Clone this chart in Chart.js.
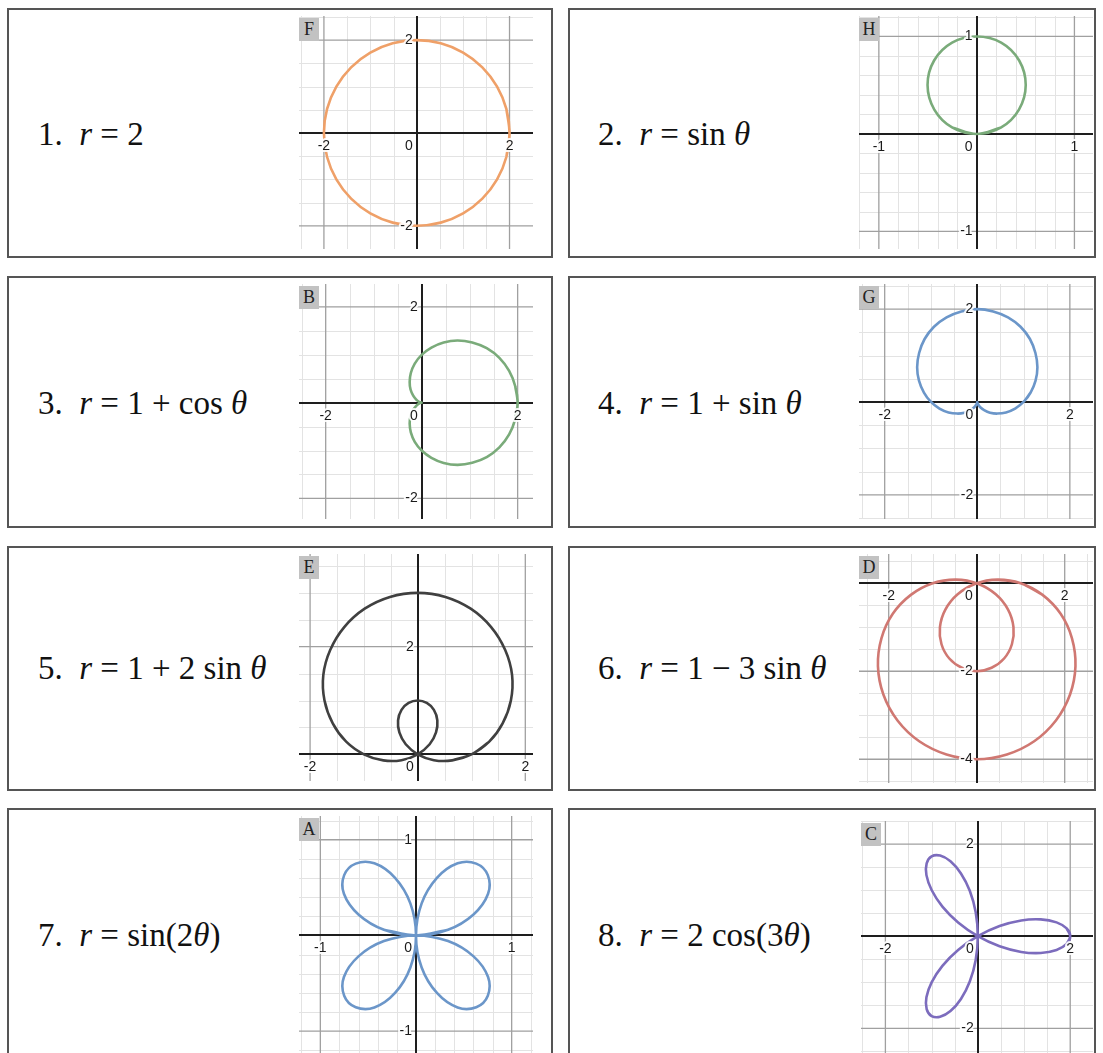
<!DOCTYPE html>
<html lang="en">
<head>
<meta charset="UTF-8">
<title>Polar Graphs Matching</title>
<script src="https://cdn.jsdelivr.net/npm/chart.js"></script>
<style>
    body {
        margin: 0;
        width: 1103px;
        height: 1053px;
        overflow: hidden;
        position: relative;
        background: #fff;
        font-family: 'Liberation Serif', 'Times New Roman', serif;
    }
    .box {
        position: absolute;
        border: 2px solid #555;
        box-sizing: border-box;
    }
    .eq {
        position: absolute;
        font-size: 33px;
        line-height: 40px;
        color: #111;
        white-space: nowrap;
    }
    .plot {
        position: absolute;
    }
    .tag {
        position: absolute;
        width: 20px;
        height: 23px;
        background: #c2c2c2;
        color: #222;
        font-size: 18px;
        line-height: 23px;
        text-align: center;
    }
</style>
</head>
<body>
<script>
    const stepDeg = [15, 15, 10, 10, 10, 10, 10, 5];
    const rCircle = [2, 2, 2, 2, 2, 2, 2, 2, 2, 2, 2, 2, 2, 2, 2, 2, 2, 2, 2, 2, 2, 2, 2, 2];
    const rSin = [0, 0.26, 0.5, 0.71, 0.87, 0.97, 1, 0.97, 0.87, 0.71, 0.5, 0.26];
    const rOnePlusCos = [2, 1.98, 1.94, 1.87, 1.77, 1.64, 1.5, 1.34, 1.17, 1, 0.83, 0.66, 0.5, 0.36, 0.23, 0.13, 0.06, 0.02,
        0, 0.02, 0.06, 0.13, 0.23, 0.36, 0.5, 0.66, 0.83, 1, 1.17, 1.34, 1.5, 1.64, 1.77, 1.87, 1.94, 1.98];
    const rOnePlusSin = [1, 1.17, 1.34, 1.5, 1.64, 1.77, 1.87, 1.94, 1.98, 2, 1.98, 1.94, 1.87, 1.77, 1.64, 1.5, 1.34, 1.17,
        1, 0.83, 0.66, 0.5, 0.36, 0.23, 0.13, 0.06, 0.02, 0, 0.02, 0.06, 0.13, 0.23, 0.36, 0.5, 0.66, 0.83];
    const rOnePlus2Sin = [1, 1.35, 1.68, 2, 2.29, 2.53, 2.73, 2.88, 2.97, 3, 2.97, 2.88, 2.73, 2.53, 2.29, 2, 1.68, 1.35,
        1, 0.65, 0.32, 0, -0.29, -0.53, -0.73, -0.88, -0.97, -1, -0.97, -0.88, -0.73, -0.53, -0.29, 0, 0.32, 0.65];
    const rOneMinus3Sin = [1, 0.48, -0.03, -0.5, -0.93, -1.3, -1.6, -1.82, -1.95, -2, -1.95, -1.82, -1.6, -1.3, -0.93, -0.5, -0.03, 0.48,
        1, 1.52, 2.03, 2.5, 2.93, 3.3, 3.6, 3.82, 3.95, 4, 3.95, 3.82, 3.6, 3.3, 2.93, 2.5, 2.03, 1.52];
    const rSin2 = [0, 0.34, 0.64, 0.87, 0.98, 0.98, 0.87, 0.64, 0.34, 0, -0.34, -0.64, -0.87, -0.98, -0.98, -0.87, -0.64, -0.34,
        0, 0.34, 0.64, 0.87, 0.98, 0.98, 0.87, 0.64, 0.34, 0, -0.34, -0.64, -0.87, -0.98, -0.98, -0.87, -0.64, -0.34];
    const r2Cos3 = [2, 1.93, 1.73, 1.41, 1, 0.52, 0, -0.52, -1, -1.41, -1.73, -1.93, -2, -1.93, -1.73, -1.41, -1, -0.52,
        0, 0.52, 1, 1.41, 1.73, 1.93, 2, 1.93, 1.73, 1.41, 1, 0.52, 0, -0.52, -1, -1.41, -1.73, -1.93];

    const letters = ['F', 'H', 'B', 'G', 'E', 'D', 'A', 'C'];
    const equations = [
        '1.&nbsp; <i>r</i> = 2',
        '2.&nbsp; <i>r</i> = sin <i>θ</i>',
        '3.&nbsp; <i>r</i> = 1 + cos <i>θ</i>',
        '4.&nbsp; <i>r</i> = 1 + sin <i>θ</i>',
        '5.&nbsp; <i>r</i> = 1 + 2 sin <i>θ</i>',
        '6.&nbsp; <i>r</i> = 1 − 3 sin <i>θ</i>',
        '7.&nbsp; <i>r</i> = sin(2<i>θ</i>)',
        '8.&nbsp; <i>r</i> = 2 cos(3<i>θ</i>)'
    ];
    const radii = [rCircle, rSin, rOnePlusCos, rOnePlusSin, rOnePlus2Sin, rOneMinus3Sin, rSin2, r2Cos3];

    // layout: box, text centre line, plot rectangle and the axis window of each panel
    const rows = [[8, 250, 134], [276, 252, 403], [546, 245, 668], [808, 252, 935]];
    const cols = [[7, 546, 38], [568, 528, 598]];
    const panels = [
        { color: '#efa068', plot: [299, 16, 234, 233], x: [-2.537, 2.506], y: [-2.5, 2.52], minor: 0.5, major: 2 },
        { color: '#7aab7a', plot: [859, 16, 234, 233], x: [-1.203, 1.19], y: [-1.18, 1.21], minor: 0.2, major: 1 },
        { color: '#7aab7a', plot: [299, 284, 234, 235], x: [-2.556, 2.32], y: [-2.43, 2.48], minor: 0.5, major: 2 },
        { color: '#6b96c9', plot: [859, 284, 234, 235], x: [-2.555, 2.5], y: [-2.52, 2.54], minor: 0.5, major: 2 },
        { color: '#404040', plot: [299, 554, 234, 227], x: [-2.206, 2.143], y: [-0.496, 3.723], minor: 0.5, major: 2 },
        { color: '#d07872', plot: [859, 554, 234, 229], x: [-2.675, 2.643], y: [-4.54, 0.666], minor: 0.5, major: 2 },
        { color: '#6b96c9', plot: [299, 816, 234, 240], x: [-1.223, 1.223], y: [-1.26, 1.248], minor: 0.2, major: 1 },
        { color: '#7c6cbd', plot: [861, 821, 232, 235], x: [-2.528, 2.493], y: [-2.6, 2.5], minor: 0.5, major: 2 }
    ];

    function multiples(lo, hi, step) {
        const out = [];
        for (let k = Math.ceil(lo / step - 1e-9); k * step <= hi + 1e-9; k++) out.push(Math.round(k * step * 1000) / 1000);
        return out;
    }

    // Desmos-like grid, axes and tick numbers
    const gridPlugin = {
        id: 'polarGrid',
        beforeDatasetsDraw(chart, args, opts) {
            const { ctx, chartArea: a, scales: { x, y } } = chart;
            const snap = v => Math.round(v) + 0.5;
            const isMajor = v => Math.abs(v / opts.major - Math.round(v / opts.major)) < 1e-6;
            ctx.save();
            ctx.lineWidth = 1;
            ctx.strokeStyle = '#e3e3e3';
            ctx.beginPath();
            multiples(x.min, x.max, opts.minor).filter(v => !isMajor(v)).forEach(v => {
                const px = snap(x.getPixelForValue(v));
                ctx.moveTo(px, a.top); ctx.lineTo(px, a.bottom);
            });
            multiples(y.min, y.max, opts.minor).filter(v => !isMajor(v)).forEach(v => {
                const py = snap(y.getPixelForValue(v));
                ctx.moveTo(a.left, py); ctx.lineTo(a.right, py);
            });
            ctx.stroke();
            ctx.strokeStyle = '#a0a0a0';
            ctx.lineWidth = 1.3;
            ctx.beginPath();
            multiples(x.min, x.max, opts.major).filter(v => v !== 0).forEach(v => {
                const px = x.getPixelForValue(v);
                ctx.moveTo(px, a.top); ctx.lineTo(px, a.bottom);
            });
            multiples(y.min, y.max, opts.major).filter(v => v !== 0).forEach(v => {
                const py = y.getPixelForValue(v);
                ctx.moveTo(a.left, py); ctx.lineTo(a.right, py);
            });
            ctx.stroke();
            ctx.strokeStyle = '#1e1e1e';
            ctx.lineWidth = 2;
            ctx.beginPath();
            const x0 = Math.round(x.getPixelForValue(0)), y0 = Math.round(y.getPixelForValue(0));
            ctx.moveTo(x0, a.top); ctx.lineTo(x0, a.bottom);
            ctx.moveTo(a.left, y0); ctx.lineTo(a.right, y0);
            ctx.stroke();
            ctx.restore();
        },
        afterDatasetsDraw(chart, args, opts) {
            const { ctx, scales: { x, y } } = chart;
            const x0 = x.getPixelForValue(0), y0 = y.getPixelForValue(0);
            ctx.save();
            ctx.font = '14px "Liberation Sans", Arial, sans-serif';
            ctx.lineJoin = 'round';
            ctx.lineWidth = 4;
            ctx.strokeStyle = 'rgba(255,255,255,0.9)';
            ctx.fillStyle = '#1a1a1a';
            const put = (txt, px, py, align) => {
                ctx.textAlign = align;
                ctx.textBaseline = 'middle';
                ctx.strokeText(txt, px, py);
                ctx.fillText(txt, px, py);
            };
            multiples(x.min + 0.04 * opts.major, x.max - 0.04 * opts.major, opts.major).filter(v => v !== 0)
                .forEach(v => put(String(v), x.getPixelForValue(v), y0 + 13, 'center'));
            multiples(y.min + 0.1 * opts.major, y.max - 0.1 * opts.major, opts.major).filter(v => v !== 0)
                .forEach(v => put(String(v), x0 - 4, y.getPixelForValue(v), 'right'));
            put('0', x0 - 4, y0 + 13, 'right');
            ctx.restore();
        }
    };

    panels.forEach((p, i) => {
        const row = rows[Math.floor(i / 2)], col = cols[i % 2];
        const box = document.createElement('div');
        box.className = 'box';
        Object.assign(box.style, { left: col[0] + 'px', top: row[0] + 'px', width: col[1] + 'px', height: row[1] + 'px' });
        document.body.appendChild(box);

        const eq = document.createElement('div');
        eq.className = 'eq';
        eq.innerHTML = equations[i];
        Object.assign(eq.style, { left: col[2] + 'px', top: (row[2] - 20) + 'px' });
        document.body.appendChild(eq);

        const holder = document.createElement('div');
        holder.className = 'plot';
        Object.assign(holder.style, { left: p.plot[0] + 'px', top: p.plot[1] + 'px', width: p.plot[2] + 'px', height: p.plot[3] + 'px' });
        const canvas = document.createElement('canvas');
        canvas.width = p.plot[2];
        canvas.height = p.plot[3];
        holder.appendChild(canvas);
        const tag = document.createElement('div');
        tag.className = 'tag';
        tag.textContent = letters[i];
        Object.assign(tag.style, { left: '0px', top: '2px' });
        holder.appendChild(tag);
        document.body.appendChild(holder);

        // polar samples -> cartesian points, wrapped so the closed curve stays smooth at the seam
        const pts = radii[i].map((r, k) => {
            const t = k * stepDeg[i] * Math.PI / 180;
            return { x: r * Math.cos(t), y: r * Math.sin(t) };
        });
        const n = pts.length;
        const data = [pts[n - 1], ...pts, pts[0], pts[1]];

        new Chart(canvas, {
            type: 'scatter',
            data: {
                datasets: [{
                    data: data,
                    showLine: true,
                    borderColor: p.color,
                    borderWidth: 2.6,
                    pointRadius: 0,
                    tension: 0.34,
                    fill: false
                }]
            },
            options: {
                responsive: false,
                animation: false,
                events: [],
                layout: { padding: 0 },
                scales: {
                    x: { type: 'linear', min: p.x[0], max: p.x[1], display: false },
                    y: { type: 'linear', min: p.y[0], max: p.y[1], display: false }
                },
                plugins: {
                    legend: { display: false },
                    tooltip: { enabled: false },
                    polarGrid: { minor: p.minor, major: p.major }
                }
            },
            plugins: [gridPlugin]
        });
    });
</script>
</body>
</html>
